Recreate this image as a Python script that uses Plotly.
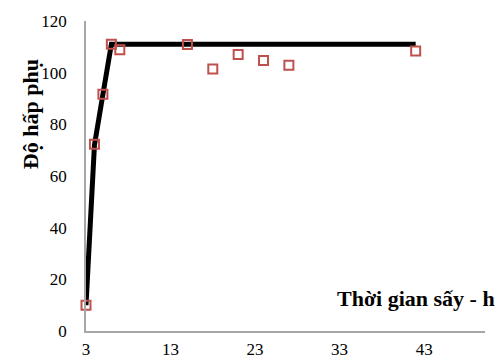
import plotly.graph_objects as go

# Data
line_x = [3, 4, 5, 6, 42]
line_y = [10, 72, 91.6, 111, 111]
pts_x = [3, 4, 5, 6, 7, 15, 18, 21, 24, 27, 42]
pts_y = [10, 72.3, 91.6, 111, 108.9, 110.9, 101.4, 107, 104.7, 102.9, 108.4]
x_ticks = [3, 13, 23, 33, 43]
y_ticks = [0, 20, 40, 60, 80, 100, 120]

fig = go.Figure()
fig.add_trace(go.Scatter(x=line_x, y=line_y, mode="lines",
                         line=dict(color="black", width=5), showlegend=False))
fig.add_trace(go.Scatter(x=pts_x, y=pts_y, mode="markers",
                         marker=dict(symbol="square-open", size=9, color="#c0504d",
                                     line=dict(width=2, color="#c0504d")),
                         cliponaxis=False, showlegend=False))

font = "Liberation Serif"
fig.update_layout(
    width=503, height=363,
    margin=dict(l=86, r=18, t=21, b=32),
    paper_bgcolor="white", plot_bgcolor="white",
    font=dict(family=font, size=17, color="#000000"),
    xaxis=dict(range=[3, 50.2], tickvals=x_ticks, ticktext=[str(v) for v in x_ticks],
               showgrid=False, zeroline=False, showline=True, linecolor="#a6a6a6",
               linewidth=1.5, ticks="", ticklabelstandoff=2, automargin=False,
               tickfont=dict(family=font, size=17)),
    yaxis=dict(range=[0, 120], tickvals=y_ticks, showgrid=False, zeroline=False,
               showline=True, linecolor="#a6a6a6", linewidth=1.5, ticks="",
               ticklabelstandoff=14, automargin=False,
               tickfont=dict(family=font, size=17)),
    annotations=[
        dict(text="<b>Thời gian sấy - h</b>", xref="paper", yref="paper",
             x=1.03, y=0.105, xanchor="right", yanchor="middle", showarrow=False,
             font=dict(family=font, size=22, color="black")),
        dict(text="<b>Độ hấp phụ</b>", xref="paper", yref="paper",
             x=-0.14, y=0.70, xanchor="center", yanchor="middle", textangle=-90,
             showarrow=False, font=dict(family=font, size=22, color="black")),
    ],
)
fig.write_html("out.html")
